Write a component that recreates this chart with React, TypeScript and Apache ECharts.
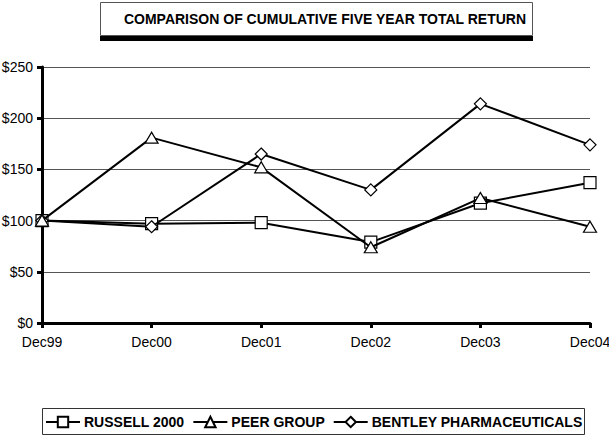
import React, { useEffect, useRef } from "react";
import * as echarts from "echarts";

const categories = ["Dec99", "Dec00", "Dec01", "Dec02", "Dec03", "Dec04"];
const russell2000 = [100, 97, 98, 79, 117, 137];
const peerGroup = [100, 181, 152, 74, 122, 94];
const bentley = [100, 94, 165, 130, 214, 174];
const seriesNames = ["RUSSELL 2000", "PEER GROUP", "BENTLEY PHARMACEUTICALS"];
const titleText = "COMPARISON OF CUMULATIVE FIVE YEAR TOTAL RETURN";

const FONT = '"Liberation Sans", Arial, Helvetica, sans-serif';

export default function App() {
  const ref = useRef<HTMLDivElement>(null);
  useEffect(() => {
    if (!ref.current) return;
    const chart = echarts.init(ref.current, undefined, { renderer: "svg" });
    const lineSeries = (name: string, data: number[], symbol: string, size: any, z: number) => ({
      name,
      type: "line",
      data,
      symbol,
      symbolSize: size,
      z,
      lineStyle: { color: "#000", width: 2 },
      itemStyle: { color: "#fff", borderColor: "#000", borderWidth: 1.2 },
      emphasis: { disabled: true },
    });
    chart.setOption({
      animation: false,
      backgroundColor: "#fff",
      textStyle: { fontFamily: FONT },
      graphic: [
        { type: "rect", z: 0, shape: { x: 100, y: 36, width: 433, height: 5 }, style: { fill: "#000" } },
        {
          type: "rect",
          z: 1,
          shape: { x: 100.5, y: 2.5, width: 432, height: 33 },
          style: { fill: "#fff", stroke: "#555", lineWidth: 1 },
        },
        {
          type: "text",
          z: 2,
          x: 325,
          y: 19,
          style: {
            text: titleText,
            fill: "#000",
            font: `bold 14px ${FONT}`,
            textAlign: "center",
            textVerticalAlign: "middle",
          },
        },
        {
          type: "rect",
          z: 0,
          shape: { x: 42.5, y: 408.5, width: 542, height: 26 },
          style: { fill: "#fff", stroke: "#333", lineWidth: 1 },
        },
      ],
      legend: {
        data: seriesNames,
        left: 45,
        top: 415,
        itemWidth: 34,
        itemHeight: 13,
        itemGap: 8,
        padding: 0,
        z: 5,
        textStyle: { fontFamily: FONT, fontWeight: "bold", fontSize: 14, color: "#000", padding: [0, 0, 0, -1] },
      },
      grid: { left: 42, right: 19, top: 67, bottom: 113, outerBoundsMode: "none", containLabel: false },
      xAxis: {
        type: "category",
        data: categories,
        boundaryGap: false,
        axisLine: { lineStyle: { color: "#000", width: 3 } },
        axisTick: { show: true, length: 5, lineStyle: { color: "#000", width: 3 } },
        axisLabel: { color: "#000", fontSize: 14, fontFamily: FONT, margin: 12 },
        splitLine: { show: false },
      },
      yAxis: {
        type: "value",
        min: 0,
        max: 250,
        interval: 50,
        axisLine: { show: true, lineStyle: { color: "#000", width: 3 } },
        axisTick: { show: true, length: 5, lineStyle: { color: "#000", width: 3 } },
        axisLabel: { color: "#000", fontSize: 14, fontFamily: FONT, margin: 9, formatter: "${value}" },
        splitLine: { show: true, lineStyle: { color: "#555", width: 1 } },
      },
      series: [
        lineSeries(seriesNames[0], russell2000, "rect", 12, 2),
        lineSeries(seriesNames[2], bentley, "diamond", [12, 12], 3),
        lineSeries(seriesNames[1], peerGroup, "triangle", [13, 11], 4),
      ],
    });
    return () => chart.dispose();
  }, []);
  return <div ref={ref} style={{ width: 609, height: 436, position: "absolute", left: 0, top: 0 }} />;
}
